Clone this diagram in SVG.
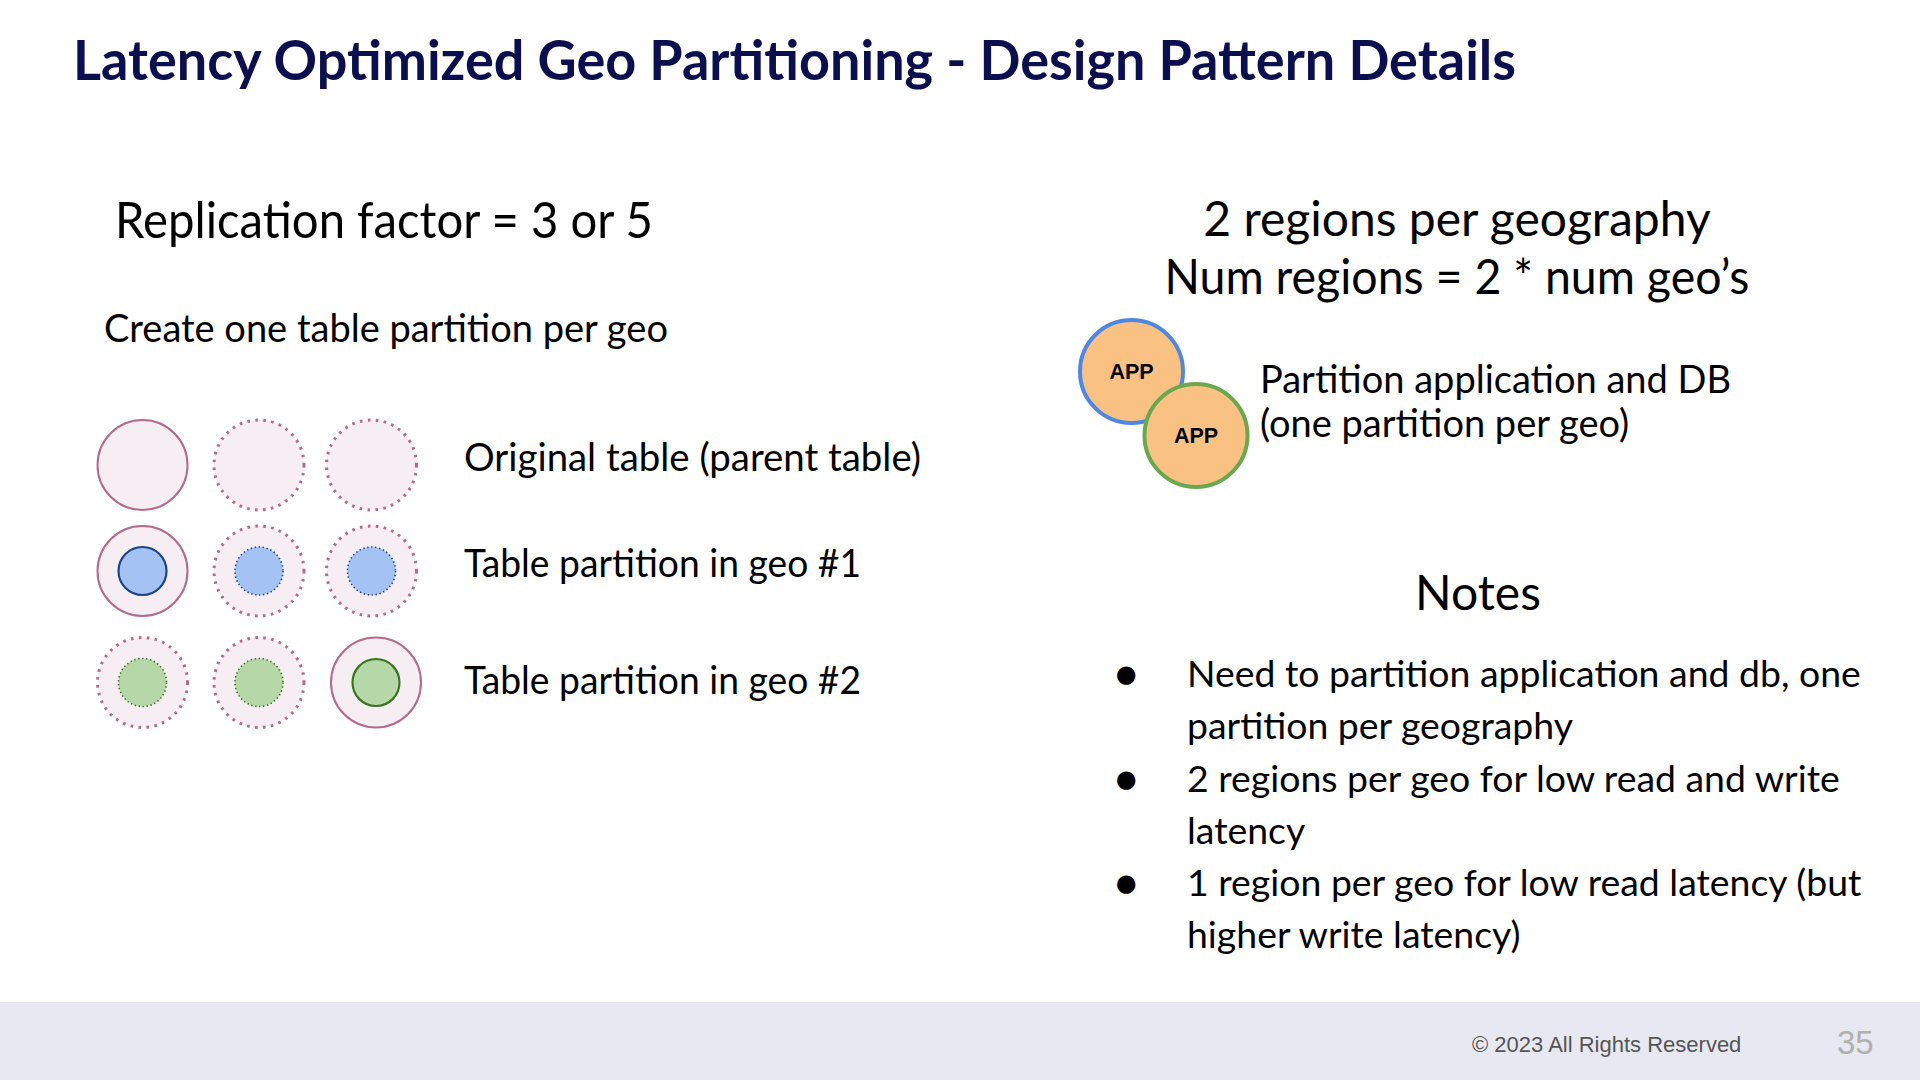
<svg xmlns="http://www.w3.org/2000/svg" width="1920" height="1080" viewBox="0 0 1920 1080">
<style>
.t{font-family:Lato,"Noto Sans",sans-serif;fill:#000}
.title{font-family:Lato,sans-serif;font-weight:bold;fill:#0c0f4f;font-size:55px}
.big{font-size:48px}
.mid{font-size:38px}
.note{font-size:37.4px}
.app{font-family:"Liberation Sans",Arial,sans-serif;font-weight:bold;font-size:21.5px;fill:#000;text-anchor:middle}
.outer{fill:#f6eef2;stroke:#b46a8c;stroke-width:2}
.outerd{fill:#f6eef2;stroke:#b46a8c;stroke-width:3;stroke-dasharray:2.6 5.4}
.blue{fill:#a4c2f4;stroke:#1c4587;stroke-width:2.2}
.blued{fill:#a4c2f4;stroke:#1c4587;stroke-width:1.6;stroke-dasharray:1.4 2.6}
.green{fill:#b6d7a8;stroke:#38761d;stroke-width:2.2}
.greend{fill:#b6d7a8;stroke:#38761d;stroke-width:1.6;stroke-dasharray:1.4 2.6}
</style>
<rect width="1920" height="1080" fill="#fff"/>
<rect x="0" y="1002" width="1920" height="78" fill="#e8e8f2"/>
<text class="title" x="73" y="80" textLength="1443" lengthAdjust="spacingAndGlyphs">Latency Optimized Geo Partitioning - Design Pattern Details</text>

<text class="t" font-size="50" x="115" y="238" textLength="538" lengthAdjust="spacingAndGlyphs">Replication factor = 3 or 5</text>
<text class="t mid" x="104" y="342">Create one table partition per geo</text>

<g id="row-original">
<circle class="outer" cx="142.5" cy="465" r="45"/>
<circle class="outerd" cx="259" cy="465" r="45"/>
<circle class="outerd" cx="371.5" cy="465" r="45"/>
</g>
<g id="row-geo1">
<circle class="outer" cx="142.5" cy="571" r="45"/>
<circle class="blue" cx="142.5" cy="571" r="24"/>
<circle class="outerd" cx="259" cy="571" r="45"/>
<circle class="blued" cx="259" cy="571" r="24"/>
<circle class="outerd" cx="371.5" cy="571" r="45"/>
<circle class="blued" cx="371.5" cy="571" r="24"/>
</g>
<g id="row-geo2">
<circle class="outerd" cx="142.5" cy="682.5" r="45"/>
<circle class="greend" cx="142.5" cy="682.5" r="24"/>
<circle class="outerd" cx="259" cy="682.5" r="45"/>
<circle class="greend" cx="259" cy="682.5" r="24"/>
<circle class="outer" cx="376" cy="682.5" r="45"/>
<circle class="green" cx="376" cy="682.5" r="23.5"/>
</g>
<text class="t mid" x="464" y="471" textLength="457" lengthAdjust="spacingAndGlyphs">Original table (parent table)</text>
<text class="t mid" x="464" y="577" textLength="397" lengthAdjust="spacingAndGlyphs">Table partition in geo #1</text>
<text class="t mid" x="464" y="694" textLength="397" lengthAdjust="spacingAndGlyphs">Table partition in geo #2</text>

<text class="t big" x="1457" y="236" text-anchor="middle">2 regions per geography</text>
<text class="t big" x="1457" y="294" text-anchor="middle" textLength="585" lengthAdjust="spacingAndGlyphs">Num regions = 2 * num geo’s</text>

<g id="app1">
<circle cx="1131.5" cy="371.5" r="51.5" fill="#f9c283" stroke="#4f87e0" stroke-width="4"/>
<text class="app" x="1131.5" y="379">APP</text>
</g>
<g id="app2">
<circle cx="1196" cy="435.5" r="51.5" fill="#f9c283" stroke="#6aa84f" stroke-width="4"/>
<text class="app" x="1196" y="443">APP</text>
</g>
<text class="t mid" x="1260" y="393">Partition application and DB</text>
<text class="t mid" x="1260" y="437">(one partition per geo)</text>

<text class="t big" x="1478" y="610" text-anchor="middle">Notes</text>
<g class="t note">
<text x="1115" y="687">●</text>
<text x="1187" y="687">Need to partition application and db, one</text>
<text x="1187" y="739">partition per geography</text>
<text x="1115" y="792">●</text>
<text x="1187" y="792">2 regions per geo for low read and write</text>
<text x="1187" y="844">latency</text>
<text x="1115" y="896">●</text>
<text x="1187" y="896">1 region per geo for low read latency (but</text>
<text x="1187" y="948">higher write latency)</text>
</g>

<text x="1472" y="1052" font-family="Liberation Sans,Arial,sans-serif" font-size="22" fill="#555">© 2023 All Rights Reserved</text>
<text x="1837" y="1054" font-family="Liberation Sans,Arial,sans-serif" font-size="33" fill="#b0b0b0">35</text>
</svg>
